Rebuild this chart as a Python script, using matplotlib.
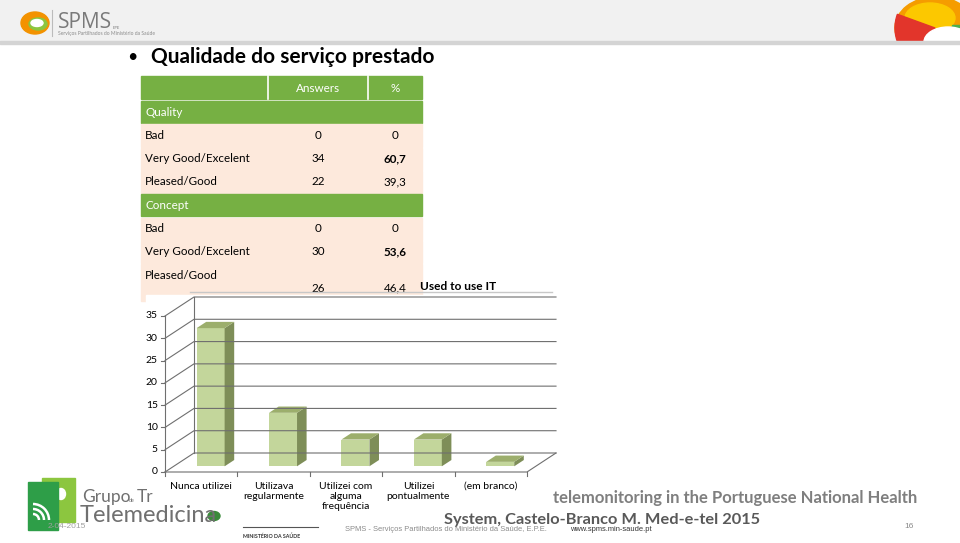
import numpy as np
import matplotlib.pyplot as plt
from matplotlib.patches import Polygon, Rectangle, Ellipse, Wedge, Arc

plt.rcParams['font.family'] = ['Lato', 'DejaVu Sans']

# ---- data
row_labels = ['Bad', 'Very Good/Excelent', 'Pleased/Good']
quality_answers = ['0', '34', '22']
quality_pct = ['0', '60,7', '39,3']
concept_answers = ['0', '30', '26']
concept_pct = ['0', '53,6', '46,4']

categories = ['Nunca utilizei', 'Utilizava\nregularmente', 'Utilizei com\nalguma\nfrequência',
              'Utilizei\npontualmente', '(em branco)']
used_it = [31, 12, 6, 6, 1]
yticks = [0, 5, 10, 15, 20, 25, 30, 35]

green = '#76b043'
peach = '#fde9dc'
face_c = '#c3d69b'
side_c = '#7e8e58'
top_c = '#9cae6c'

fig = plt.figure(figsize=(9.6, 5.43), dpi=100)

# overlay in pixel coordinates for the slide furniture
ov = fig.add_axes([0, 0, 1, 1])
ov.set_xlim(0, 960)
ov.set_ylim(543, 0)
ov.axis('off')

# header band
ov.add_patch(Rectangle((0, 0), 960, 42, color='#f1f1f1', zorder=0))
ov.add_patch(Rectangle((0, 41), 960, 3, color='#d4d4d4', zorder=5))
ov.add_patch(Ellipse((35, 23), 28, 22, color='#f39200', zorder=1))
ov.add_patch(Ellipse((38, 24), 18, 12, color='#8cc63f', zorder=2))
ov.add_patch(Ellipse((37, 23), 12, 7, color='white', zorder=3))
ov.plot([52, 52], [10, 36], color='#bbbbbb', lw=0.8)
ov.text(58, 22, 'SPMS', fontsize=15, color='#7a7a7a', va='center', family=['Open Sans', 'DejaVu Sans'])
ov.text(113, 28, 'EPE', fontsize=3, color='#7a7a7a', va='center')
ov.text(58, 33.5, 'Serviços Partilhados do Ministério da Saúde', fontsize=3.6, color='#8a8a8a', va='center')

# top right logo, clipped to the header band
clip = Rectangle((0, 0), 960, 41, transform=ov.transData)
logo = [Ellipse((935, 28), 80, 62, color='#f59c00', zorder=1),
        Ellipse((930, 18), 50, 30, color='#fcc800', zorder=2),
        Wedge((935, 28), 40, 110, 200, color='#e2352b', zorder=2),
        Rectangle((952, 25), 8, 16, color='#4caf50', zorder=2),
        Ellipse((948, 42), 48, 30, color='white', zorder=3)]
for p in logo:
    ov.add_patch(p)
    p.set_clip_path(clip)

# slide title
ov.text(127, 57, '•', fontsize=13, va='center', ha='left')
ov.text(151, 57, 'Qualidade do serviço prestado', fontsize=15, fontweight='bold', va='center')

# ---- table
x0, x1, x2, x3 = 141, 268, 368, 422
fs = 8.4
def band(y_top, h, color):
    ov.add_patch(Rectangle((x0, y_top), x3 - x0, h, color=color, zorder=1))

band(76, 23, green)
ov.plot([x1, x1], [76, 99], color='white', lw=1.2, zorder=2)
ov.plot([x2, x2], [76, 99], color='white', lw=1.2, zorder=2)
ov.text((x1 + x2) / 2, 88, 'Answers', color='white', fontsize=fs, ha='center', va='center', zorder=3)
ov.text((x2 + x3) / 2, 88, '%', color='white', fontsize=fs, ha='center', va='center', zorder=3)

y = 101
for title, ans, pct in [('Quality', quality_answers, quality_pct), ('Concept', concept_answers, concept_pct)]:
    band(y, 22, green)
    ov.text(x0 + 4, y + 11, title, color='white', fontsize=fs, va='center', zorder=3)
    y += 23.3
    for i, lab in enumerate(row_labels):
        last = (title == 'Concept' and i == 2)
        h = 37 if last else 22.3
        band(y, h, peach)
        ty = y + 11
        vy = y + 24 if last else ty
        ov.text(x0 + 4, ty, lab, fontsize=fs, va='center', zorder=3)
        ov.text((x1 + x2) / 2, vy, ans[i], fontsize=fs, ha='center', va='center', zorder=3)
        bold = 'bold' if i == 1 else 'normal'
        ov.text((x2 + x3) / 2, vy, pct[i], fontsize=fs, ha='center', va='center',
                fontweight=bold, zorder=3)
        y += 23.3

# chart area covering bottom of table
ov.add_patch(Rectangle((146, 295), 410, 180, color='white', zorder=4))
ov.plot([190, 552], [292, 292], color='#c8c8c8', lw=1, zorder=5)
ov.text(420, 286, 'Used to use IT', fontsize=8.6, fontweight='bold', va='center', zorder=5)

# ---- footer
ov.add_patch(Polygon([[42, 478], [75, 478], [75, 522], [42, 522]], color='#8cc63f', zorder=0))
ov.add_patch(Ellipse((61, 494), 9, 11, color='white', zorder=0.5))
ov.add_patch(Rectangle((28, 482), 30, 48, color='#2e9e48', zorder=1))
for r in [6, 11, 16]:
    ov.add_patch(Arc((33, 520), 2 * r, 2 * r, theta1=270, theta2=360, color='white', lw=1.8, zorder=2))
ov.text(82, 497, 'Grupo', fontsize=12.5, color='#707070', va='center')
ov.text(129, 500, 'de', fontsize=3.8, color='#707070', va='center')
ov.text(137, 497, 'Tr', fontsize=12.5, color='#707070', va='center')
ov.text(80, 516, 'Telemedicina', fontsize=17, color='#707070', va='center')
ov.add_patch(Ellipse((214, 516), 12, 9, color='#3a8a3a', zorder=2))
ov.plot([243, 318], [527, 527], color='#555555', lw=0.8)
ov.text(243, 536, 'MINISTÉRIO DA SAÚDE', fontsize=3.8, color='#333333', va='center', fontweight='bold')
ov.text(48, 527, '2-04-2015', fontsize=6, color='#a0a0a0', va='center', family=['Liberation Sans'])
ov.text(553, 498, 'telemonitoring in the Portuguese National Health', fontsize=12,
        fontweight='bold', color='#7f7f7f', va='center')
ov.text(444, 520, 'System, Castelo-Branco M. Med-e-tel 2015', fontsize=11.8,
        fontweight='bold', color='#595959', va='center')
ov.text(345, 529.5, 'SPMS - Serviços Partilhados do Ministério da Saúde, E.P.E.', fontsize=5.4,
        color='#8a8a8a', va='center', family=['Liberation Sans'])
ov.text(652, 529.5, 'www.spms.min-saude.pt', fontsize=5.4, color='#333333', va='center', ha='right',
        family=['Liberation Sans'])
ov.text(904, 526, '16', fontsize=6, color='#8a8a8a', va='center', family=['Liberation Sans'])

# ---- pseudo 3D bar chart in data units
px_x = 72.4           # pixels per category
px_y = 156 / 35       # pixels per unit
fx0, fy0 = 165, 472   # pixel of the front origin
bl, br, bt, bb = 148, 560, 292, 490
ax = fig.add_axes([bl / 960, (543 - bb) / 543, (br - bl) / 960, (bb - bt) / 543], zorder=2)
ax.set_xlim((bl - fx0) / px_x, (br - fx0) / px_x)
ax.set_ylim((fy0 - bb) / px_y, (fy0 - bt) / px_y)
ax.set_facecolor('none')
ax.axis('off')

n = len(categories)
ymax = yticks[-1]
dx, dy = 29 / px_x, 19 / px_y
gc = '#6f6f6f'
for v in yticks:
    ax.plot([0, dx, n + dx], [v, v + dy, v + dy], color=gc, lw=0.8)
    ax.plot([-0.05, 0], [v, v], color=gc, lw=0.8)
    ax.text(-0.1, v, str(v), ha='right', va='center', fontsize=7.5)
ax.plot([0, 0], [0, ymax], color=gc, lw=0.8)
ax.plot([dx, dx], [dy, ymax + dy], color=gc, lw=0.8)
ax.plot([0, n, n + dx], [0, 0, dy], color=gc, lw=0.8)
for i in range(n + 1):
    ax.plot([i, i], [0, -0.8], color=gc, lw=0.8)
for i, lab in enumerate(categories):
    ax.text(i + 0.5, -2.2, lab, ha='center', va='top', fontsize=7.5, linespacing=1.15)

w = 28 / px_x
f0, fd = 0.30, 0.33
for i, v in enumerate(used_it):
    xl = i + 0.5 - w / 2 + f0 * dx + 0.01
    yb = f0 * dy
    ox, oy = fd * dx, fd * dy
    ax.add_patch(Polygon([[xl, yb], [xl + w, yb], [xl + w, yb + v], [xl, yb + v]],
                         facecolor=face_c, edgecolor='none'))
    ax.add_patch(Polygon([[xl + w, yb], [xl + w + ox, yb + oy], [xl + w + ox, yb + v + oy],
                          [xl + w, yb + v]], facecolor=side_c, edgecolor='none'))
    ax.add_patch(Polygon([[xl, yb + v], [xl + w, yb + v], [xl + w + ox, yb + v + oy],
                          [xl + ox, yb + v + oy]], facecolor=top_c, edgecolor='none'))

fig.savefig('out.png', dpi=100)
